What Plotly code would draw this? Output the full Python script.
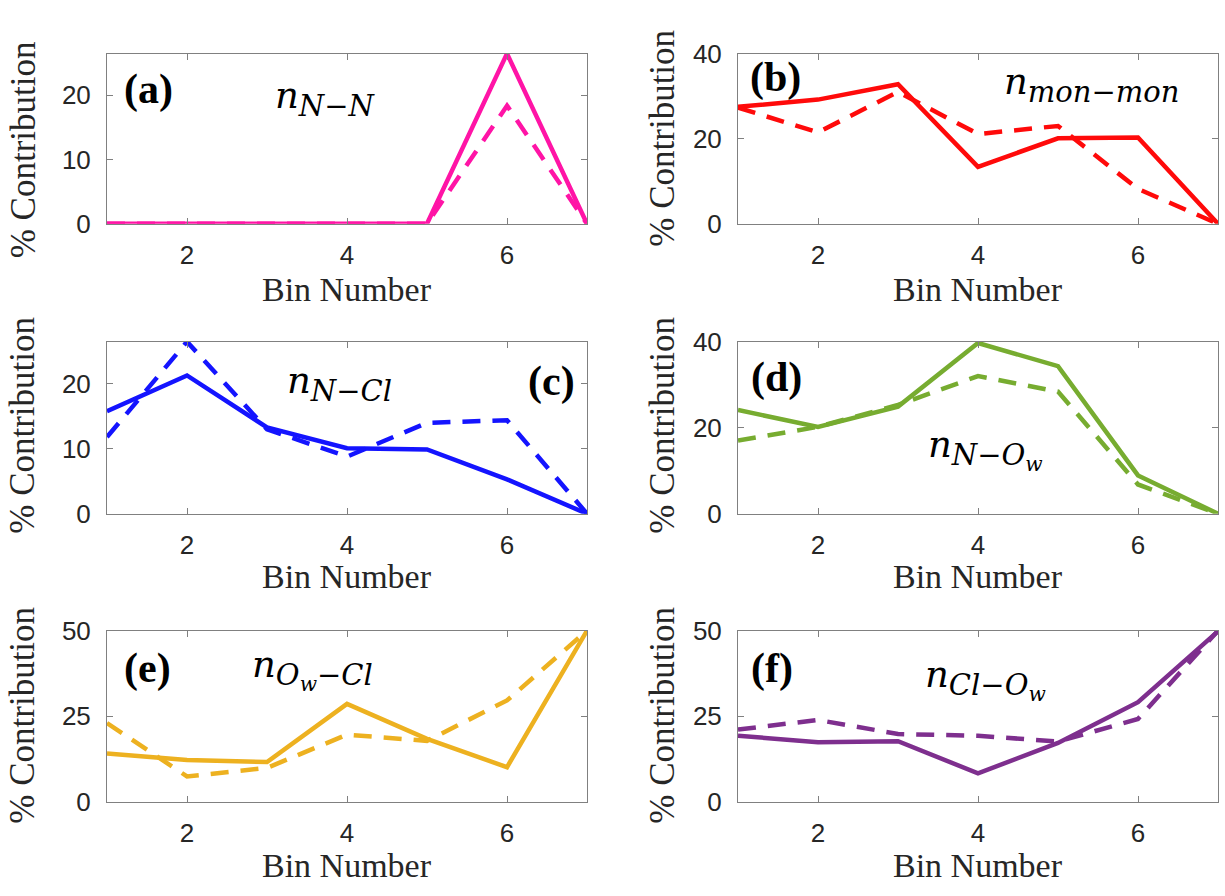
import plotly.graph_objects as go

W, H = 1225, 896

bins = [1, 2, 3, 4, 5, 6, 7]

nn_solid = [0, 0, 0, 0, 0, 26.5, 0]
nn_dash = [0, 0, 0, 0, 0, 18.4, 0]

mon_solid = [27.5, 29.2, 32.8, 13.4, 20.1, 20.3, 0]
mon_dash = [27.3, 21.5, 31.0, 21.1, 23.0, 8.2, 0]

ncl_solid = [15.8, 21.3, 13.3, 10.1, 9.9, 5.3, 0]
ncl_dash = [11.8, 26.5, 13.0, 8.8, 14.0, 14.4, 0]

now_solid = [24.1, 20.2, 24.9, 39.7, 34.3, 8.9, 0]
now_dash = [17.0, 20.2, 25.3, 32.0, 28.4, 6.8, 0]

owcl_solid = [14.1, 12.2, 11.6, 28.6, 18.4, 10.1, 50]
owcl_dash = [23.0, 7.4, 9.9, 19.6, 17.8, 29.6, 50]

clow_solid = [19.3, 17.4, 17.7, 8.3, 17.2, 29.1, 49.8]
clow_dash = [21.1, 23.9, 19.8, 19.3, 17.6, 24.2, 50]

y_ranges = [[0, 26.5], [0, 40], [0, 26.5], [0, 40], [0, 50], [0, 50]]
y_ticks = [[0, 10, 20], [0, 20, 40], [0, 10, 20], [0, 20, 40], [0, 25, 50], [0, 25, 50]]
x_ticks = [2, 4, 6]

colors = ["#FF14A6", "#FF0A0A", "#1414FF", "#77AC30", "#EDB120", "#7E2F8E"]
series = [(nn_solid, nn_dash), (mon_solid, mon_dash), (ncl_solid, ncl_dash),
          (now_solid, now_dash), (owcl_solid, owcl_dash), (clow_solid, clow_dash)]

panel_tags = ["(a)", "(b)", "(c)", "(d)", "(e)", "(f)"]

SUB = "<sub><span style='font-size:29px'>{}</span></sub>"
math_labels = [
    "<i>n</i>" + SUB.format("<i>N</i>−<i>N</i>"),
    "<i>n</i>" + SUB.format("<i>mon</i>−<i>mon</i>"),
    "<i>n</i>" + SUB.format("<i>N</i>−<i>Cl</i>"),
    "<i>n</i>" + SUB.format("<i>N</i>−<i>O<sub>w</sub></i>"),
    "<i>n</i>" + SUB.format("<i>O<sub>w</sub></i>−<i>Cl</i>"),
    "<i>n</i>" + SUB.format("<i>Cl</i>−<i>O<sub>w</sub></i>"),
]

# layout in pixels
cols = [(107, 587), (738, 1218)]
rows = [(40, 216), (338, 516), (637, 814)]

def px_x(x):
    return x / W

def px_y(y):
    return 1 - y / H

fig = go.Figure()
axis_line = "#808080"
tick_font = dict(family="Liberation Sans, Arial, sans-serif", size=26, color="#262626")
serif = "Liberation Serif, Times New Roman, serif"
math_font = "DejaVu Serif, serif"

for i in range(6):
    r, c = divmod(i, 2)
    xa = "x" if i == 0 else f"x{i+1}"
    ya = "y" if i == 0 else f"y{i+1}"
    xkey = "xaxis" if i == 0 else f"xaxis{i+1}"
    ykey = "yaxis" if i == 0 else f"yaxis{i+1}"
    x0, x1 = cols[c]
    y0, y1 = rows[r]
    fig.update_layout(**{
        xkey: dict(domain=[px_x(x0), px_x(x1)], anchor=ya, range=[1, 7],
                   tickvals=x_ticks, ticks="inside", ticklen=6, tickcolor=axis_line,
                   showline=True, linecolor=axis_line, linewidth=1, mirror="ticks",
                   showgrid=False, zeroline=False, tickfont=tick_font, ticklabelstandoff=8),
        ykey: dict(domain=[px_y(y1), px_y(y0)], anchor=xa, range=y_ranges[i],
                   tickvals=y_ticks[i], ticks="inside", ticklen=6, tickcolor=axis_line,
                   showline=True, linecolor=axis_line, linewidth=1, mirror="ticks",
                   showgrid=False, zeroline=False, tickfont=tick_font, ticklabelstandoff=10),
    })
    solid, dash = series[i]
    fig.add_trace(go.Scatter(x=bins, y=solid, mode="lines", xaxis=xa, yaxis=ya,
                             line=dict(color=colors[i], width=4.5), showlegend=False))
    fig.add_trace(go.Scatter(x=bins, y=dash, mode="lines", xaxis=xa, yaxis=ya,
                             line=dict(color=colors[i], width=4.5, dash="18px,12px"),
                             showlegend=False))

annotations = []
# axis titles
xlab_y = [284, 581, 880]
ylab_pos = {(0, 0): 140, (0, 1): 128, (1, 0): 425, (1, 1): 425, (2, 0): 725, (2, 1): 725}
ylab_x = [23, 663]
for r in range(3):
    for c in range(2):
        x0, x1 = cols[c]
        annotations.append(dict(text="Bin Number", x=px_x((x0 + x1) / 2), y=px_y(xlab_y[r]),
                                xref="paper", yref="paper", showarrow=False,
                                xanchor="center", yanchor="middle",
                                font=dict(family=serif, size=34, color="#262626")))
        annotations.append(dict(text="% Contribution", x=px_x(ylab_x[c]), y=px_y(ylab_pos[(r, c)]),
                                xref="paper", yref="paper", showarrow=False, textangle=-90,
                                xanchor="center", yanchor="middle",
                                font=dict(family=serif, size=35, color="#262626")))

tag_pos = [(148, 77), (775, 65), (551, 379), (776, 375), (147, 676), (772, 676)]
for i, (tx, ty) in enumerate(tag_pos):
    annotations.append(dict(text=f"<b>{panel_tags[i]}</b>", x=px_x(tx), y=px_y(ty),
                            xref="paper", yref="paper", showarrow=False,
                            xanchor="center", yanchor="middle",
                            font=dict(family=serif, size=42, color="black")))

# (left x of "n", vertical centre of "n")
math_pos = [(273, 85), (1002, 71), (285, 380), (926, 446), (250, 674), (923, 684)]
for i, (mx, my) in enumerate(math_pos):
    annotations.append(dict(text=math_labels[i], x=px_x(mx), y=px_y(my - 26),
                            xref="paper", yref="paper", showarrow=False,
                            xanchor="left", yanchor="top",
                            font=dict(family=math_font, size=37, color="black")))

fig.update_layout(width=W, height=H, margin=dict(l=0, r=0, t=0, b=0),
                  paper_bgcolor="white", plot_bgcolor="white",
                  annotations=annotations)

fig.write_html("out.html")
